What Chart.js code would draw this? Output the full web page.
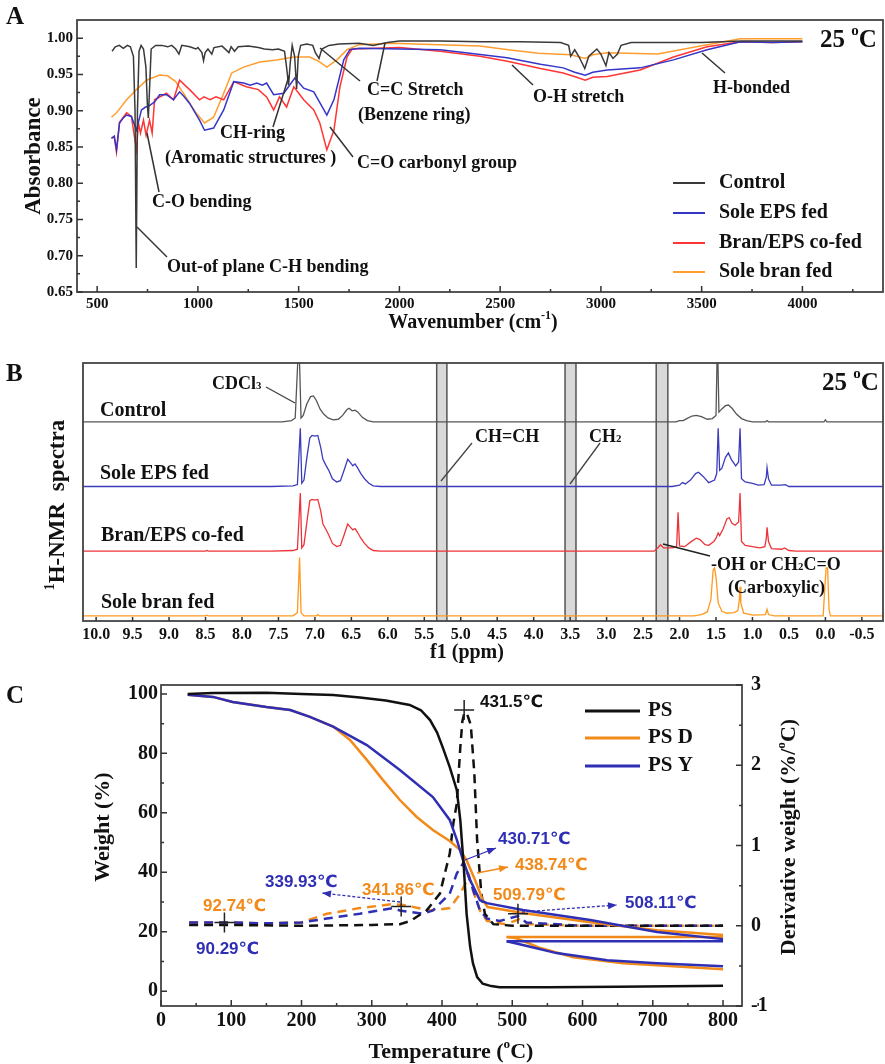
<!DOCTYPE html>
<html>
<head>
<meta charset="utf-8">
<script src="https://cdn.jsdelivr.net/npm/chart.js@4.4.0/dist/chart.umd.min.js"></script>
<style>
  html, body { margin: 0; padding: 0; background: #fff; }
  #wrap { position: relative; width: 885px; height: 1064px; }
  #wrap canvas { position: absolute; left: 0; top: 0; }
</style>
</head>
<body>
<div id="wrap">
  <canvas id="chartA" width="885" height="1064"></canvas>
  <canvas id="chartB" width="885" height="1064"></canvas>
  <canvas id="chartC" width="885" height="1064"></canvas>
</div>
<script>
const SERIF = '"Liberation Serif", "Times New Roman", serif';
const SANS = '"Liberation Sans", Arial, "DejaVu Sans", sans-serif';

// ---------- A: FTIR (wavenumber, absorbance) ----------
const ftirNames = ['Control', 'Sole EPS fed', 'Bran/EPS co-fed', 'Sole bran fed'];
const ftirXTicks = [500, 1000, 1500, 2000, 2500, 3000, 3500, 4000];
const ftirYTicks = [0.65, 0.70, 0.75, 0.80, 0.85, 0.90, 0.95, 1.00];

const ftirControl = [[574,0.982],[590,0.988],[610,0.99],[630,0.986],[650,0.99],[665,0.988],[680,0.975],[688,0.9],[694,0.683],[700,0.9],[708,0.982],[718,0.99],[730,0.985],[742,0.96],[749,0.91],[754,0.89],[760,0.93],[768,0.985],[790,0.99],[820,0.99],[850,0.988],[870,0.99],[890,0.985],[906,0.978],[920,0.99],[960,0.988],[990,0.985],[1000,0.987],[1020,0.98],[1028,0.969],[1036,0.98],[1050,0.985],[1069,0.978],[1080,0.987],[1120,0.989],[1154,0.98],[1165,0.988],[1182,0.982],[1200,0.988],[1250,0.989],[1300,0.987],[1330,0.985],[1370,0.984],[1400,0.985],[1430,0.982],[1440,0.96],[1450,0.935],[1458,0.965],[1468,0.99],[1480,0.975],[1490,0.93],[1498,0.975],[1510,0.99],[1540,0.992],[1570,0.99],[1583,0.98],[1601,0.972],[1615,0.985],[1650,0.99],[1700,0.992],[1800,0.993],[1870,0.99],[1940,0.994],[2000,0.996],[2200,0.996],[2400,0.995],[2600,0.995],[2800,0.994],[2840,0.99],[2850,0.975],[2870,0.984],[2890,0.975],[2920,0.958],[2940,0.975],[2980,0.985],[3000,0.978],[3025,0.962],[3040,0.98],[3060,0.972],[3082,0.978],[3100,0.99],[3150,0.994],[3500,0.994],[3700,0.996],[4000,0.996]];

const ftirEps = [[571,0.862],[585,0.865],[596,0.846],[611,0.883],[630,0.89],[646,0.894],[670,0.892],[695,0.873],[720,0.901],[740,0.905],[755,0.906],[785,0.912],[810,0.922],[844,0.922],[879,0.915],[909,0.926],[930,0.92],[959,0.91],[1008,0.887],[1033,0.873],[1078,0.876],[1128,0.901],[1178,0.94],[1227,0.938],[1260,0.935],[1292,0.938],[1320,0.935],[1341,0.938],[1376,0.922],[1426,0.924],[1455,0.935],[1481,0.945],[1525,0.931],[1575,0.926],[1640,0.894],[1675,0.915],[1724,0.97],[1754,0.984],[1800,0.986],[2000,0.985],[2203,0.984],[2350,0.979],[2534,0.973],[2700,0.964],[2813,0.959],[2870,0.953],[2922,0.949],[2960,0.953],[3031,0.956],[3195,0.959],[3360,0.97],[3527,0.984],[3693,0.995],[3850,0.994],[4000,0.995]];

const ftirCofed = [[571,0.862],[585,0.864],[596,0.843],[611,0.884],[646,0.897],[670,0.892],[695,0.846],[705,0.883],[715,0.869],[730,0.887],[743,0.866],[760,0.887],[773,0.869],[785,0.915],[844,0.924],[879,0.915],[909,0.942],[959,0.929],[1008,0.915],[1030,0.919],[1060,0.915],[1090,0.919],[1128,0.915],[1178,0.94],[1240,0.933],[1300,0.929],[1341,0.919],[1376,0.901],[1405,0.919],[1440,0.905],[1476,0.933],[1525,0.915],[1575,0.901],[1605,0.883],[1640,0.846],[1675,0.873],[1705,0.933],[1740,0.974],[1765,0.985],[2000,0.987],[2203,0.982],[2400,0.975],[2536,0.968],[2700,0.958],[2813,0.952],[2880,0.946],[2922,0.942],[2960,0.946],[3031,0.947],[3195,0.956],[3360,0.974],[3527,0.988],[3693,0.995],[3850,0.994],[4000,0.995]];

const ftirBran = [[571,0.891],[596,0.897],[646,0.915],[695,0.929],[745,0.942],[810,0.949],[850,0.948],[890,0.94],[940,0.919],[990,0.897],[1033,0.883],[1078,0.891],[1128,0.924],[1168,0.952],[1227,0.96],[1307,0.967],[1391,0.97],[1476,0.974],[1555,0.974],[1600,0.968],[1640,0.96],[1690,0.97],[1740,0.984],[1800,0.991],[1960,0.993],[2200,0.991],[2400,0.989],[2540,0.984],[2690,0.979],[2850,0.977],[2922,0.972],[2960,0.977],[3031,0.98],[3282,0.978],[3527,0.991],[3693,0.999],[4000,0.999]];

// ---------- B: 1H-NMR (ppm, intensity) ----------
const nmrNames = ['Control', 'Sole EPS fed', 'Bran/EPS co-fed', 'Sole bran fed'];
const nmrXTicks = [10.0, 9.5, 9.0, 8.5, 8.0, 7.5, 7.0, 6.5, 6.0, 5.5, 5.0, 4.5, 4.0, 3.5, 3.0, 2.5, 2.0, 1.5, 1.0, 0.5, 0.0, -0.5];
const nmrBands = [[5.33, 5.19], [3.57, 3.42], [2.32, 2.16]];

const nmrControl = [[10.2,0],[7.45,0],[7.32,0.02],[7.27,0.06],[7.22,1.3],[7.19,0.06],[7.16,0.1],[7.11,0.28],[7.06,0.39],[7.02,0.4],[6.98,0.33],[6.93,0.2],[6.88,0.12],[6.82,0.06],[6.75,0.03],[6.68,0.04],[6.62,0.1],[6.56,0.19],[6.53,0.21],[6.49,0.17],[6.45,0.18],[6.41,0.15],[6.35,0.07],[6.28,0.02],[6.2,0],[2.05,0],[2.0,0.02],[1.95,0.02],[1.9,0.05],[1.83,0.09],[1.77,0.1],[1.7,0.08],[1.62,0.04],[1.55,0.05],[1.5,0.1],[1.48,1.3],[1.46,0.15],[1.42,0.2],[1.37,0.25],[1.33,0.26],[1.28,0.21],[1.22,0.12],[1.15,0.05],[1.08,0.02],[1.0,0],[0.82,0],[0.8,0.02],[0.78,0],[0.02,0],[0.0,0.03],[-0.02,0],[-0.8,0]];

const nmrEps = [[10.2,0],[7.6,0],[7.3,0.01],[7.24,0.03],[7.2,0.9],[7.18,0.05],[7.15,0.1],[7.11,0.45],[7.07,0.75],[7.04,0.79],[7.0,0.78],[6.96,0.79],[6.92,0.6],[6.89,0.42],[6.85,0.33],[6.81,0.25],[6.76,0.12],[6.7,0.07],[6.65,0.09],[6.6,0.25],[6.55,0.42],[6.52,0.38],[6.48,0.32],[6.45,0.35],[6.42,0.3],[6.37,0.2],[6.32,0.12],[6.26,0.05],[6.2,0.01],[6.1,0],[2.1,0],[2.0,0.02],[1.96,0.06],[1.92,0.04],[1.85,0.1],[1.78,0.2],[1.74,0.22],[1.68,0.16],[1.6,0.06],[1.52,0.1],[1.49,0.2],[1.47,0.9],[1.45,0.25],[1.42,0.28],[1.37,0.45],[1.33,0.52],[1.29,0.42],[1.23,0.32],[1.19,0.38],[1.17,0.9],[1.15,0.12],[1.1,0.07],[1.0,0.05],[0.92,0.02],[0.84,0.03],[0.81,0.15],[0.8,0.29],[0.78,0.12],[0.74,0.02],[0.6,0.02],[0.55,0.03],[0.5,0],[-0.8,0]];

const nmrCofed = [[10.2,0],[8.5,0],[8.48,0.01],[8.46,0],[7.6,0],[7.3,0.01],[7.24,0.03],[7.2,0.9],[7.18,0.05],[7.15,0.1],[7.11,0.45],[7.07,0.78],[7.04,0.8],[7.0,0.79],[6.96,0.8],[6.92,0.62],[6.89,0.42],[6.85,0.34],[6.81,0.25],[6.76,0.12],[6.7,0.07],[6.65,0.09],[6.6,0.25],[6.55,0.42],[6.52,0.38],[6.48,0.33],[6.45,0.35],[6.42,0.3],[6.37,0.2],[6.32,0.12],[6.26,0.05],[6.2,0.01],[6.1,0],[2.35,0],[2.3,0.05],[2.26,0.1],[2.22,0.05],[2.1,0.05],[2.04,0.07],[2.02,0.6],[2.0,0.08],[1.93,0.07],[1.85,0.14],[1.77,0.2],[1.72,0.18],[1.65,0.1],[1.6,0.09],[1.53,0.15],[1.5,0.2],[1.47,0.28],[1.45,0.24],[1.4,0.35],[1.35,0.5],[1.32,0.52],[1.28,0.43],[1.24,0.4],[1.19,0.45],[1.17,0.9],[1.15,0.15],[1.1,0.09],[1.0,0.07],[0.9,0.05],[0.83,0.07],[0.81,0.2],[0.8,0.37],[0.78,0.15],[0.74,0.04],[0.6,0.03],[0.56,0.05],[0.5,0.01],[0.4,0],[-0.8,0]];

const nmrBran = [[10.2,0],[8.5,0],[8.48,0.01],[8.46,0],[7.3,0],[7.24,0.05],[7.21,0.9],[7.19,0.05],[7.15,0],[6.98,0],[6.96,0.02],[6.94,0],[6.0,0],[1.8,0],[1.7,0.02],[1.62,0.06],[1.57,0.25],[1.54,0.7],[1.52,0.74],[1.5,0.6],[1.47,0.2],[1.42,0.07],[1.35,0.04],[1.25,0.05],[1.2,0.08],[1.18,0.25],[1.17,0.45],[1.16,0.2],[1.12,0.04],[1.0,0.01],[0.82,0.02],[0.8,0.1],[0.78,0.02],[0.7,0],[0.03,0],[0.01,0.4],[-0.01,0.74],[-0.03,0.74],[-0.05,0.1],[-0.07,0],[-0.8,0]];

// ---------- C: TGA / DTG (temperature, value) ----------
const tgaNames = ['PS', 'PS D', 'PS Y'];
const tgaXTicks = [0, 100, 200, 300, 400, 500, 600, 700, 800];
const tgaYTicks = [0, 20, 40, 60, 80, 100];
const dtgYTicks = [-1, 0, 1, 2, 3];

const weightPS = [[38,100],[74,100.3],[150,100.4],[200,100],[245,99.6],[283,98.8],[320,97.8],[354,96.3],[370,94.5],[383,91.2],[393,87],[401,82],[411,75.4],[421,67.7],[426,57.6],[431,41.8],[435,26],[440,15],[444,9.4],[450,4.7],[458,2.5],[470,1.7],[482,1.3],[550,1.3],[650,1.5],[800,1.8]];
const weightPSD = [[38,99.7],[74,99],[102,97.3],[150,95.6],[184,94.6],[212,92.3],[245,89],[269,84.5],[293,77.8],[316,71],[340,64.3],[364,58.6],[387,54.2],[411,50.5],[426,47.5],[435,44],[447,37.4],[458,30.6],[465,28.3],[515,26.3],[611,23.2],[706,20.5],[800,18.9]];
const weightPSY = [[38,99.7],[74,99],[102,97.3],[150,95.6],[184,94.6],[212,92.3],[245,89],[293,82.8],[340,74.4],[387,65.3],[411,57.6],[421,51],[430,44],[440,37.4],[454,30.6],[464,29.6],[515,27.3],[611,23.9],[706,19.9],[800,17.5]];
const weightPSDflat = [[492,18.2],[800,18.2]];
const weightPSDlow = [[492,18.2],[506,17.8],[540,14.5],[587,11.4],[658,9.4],[800,7.4]];
const weightPSYflat = [[492,16.8],[800,16.8]];
const weightPSYlow = [[492,16.8],[515,15.5],[563,12.8],[635,10.4],[706,9.4],[800,8.4]];

const derivPS = [[40,0.01],[100,0.01],[200,0.0],[300,0.01],[340,0.02],[355,0.06],[378,0.19],[397,0.4],[411,0.9],[416,1.27],[421,1.52],[426,2.22],[429,2.55],[432,2.66],[436,2.63],[441,2.5],[446,1.9],[450,1.06],[456,0.4],[461,0.15],[473,0.02],[500,0.0],[600,0.0],[800,0.0]];
const derivPSD = [[40,0.04],[100,0.04],[150,0.03],[200,0.04],[236,0.15],[283,0.22],[330,0.27],[345,0.26],[383,0.19],[411,0.22],[426,0.4],[438.7,0.62],[444,0.44],[454,0.19],[464,0.06],[490,0.02],[510,0.08],[525,0.02],[600,0.0],[700,0.0],[800,0.0]];
const derivPSY = [[40,0.04],[100,0.04],[150,0.03],[200,0.04],[236,0.09],[283,0.15],[330,0.22],[340,0.19],[373,0.15],[387,0.19],[411,0.4],[421,0.65],[430.7,0.79],[440,0.56],[454,0.19],[464,0.09],[482,0.06],[508,0.12],[520,0.04],[600,0.0],[700,0.0],[800,0.0]];

const peakTemps = [431.5, 341.86, 90.29, 508.11];
const peakDeriv = [2.69, 0.24, 0.04, 0.15];

// ---------- helpers ----------
const pts = arr => arr.map(([x, y]) => ({ x, y }));

function fixSize(px, horizontal) {
  return s => {
    if (horizontal) s.height = px; else s.width = px;
    s.paddingLeft = s.paddingRight = s.paddingTop = s.paddingBottom = 0;
  };
}

function richText(ctx, parts, x, y, size, family, color, align, angle) {
  ctx.save();
  ctx.translate(x, y);
  if (angle) ctx.rotate(angle);
  ctx.fillStyle = color;
  ctx.textBaseline = 'middle';
  ctx.textAlign = 'left';
  const fonts = parts.map(p => `bold ${size * (p[1] || 1)}px ${family}`);
  const widths = parts.map((p, i) => { ctx.font = fonts[i]; return ctx.measureText(p[0]).width; });
  const total = widths.reduce((a, b) => a + b, 0);
  let cx = align === 'center' ? -total / 2 : align === 'right' ? -total : 0;
  parts.forEach((p, i) => {
    ctx.font = fonts[i];
    ctx.fillText(p[0], cx, (p[2] || 0) * size);
    cx += widths[i];
  });
  ctx.restore();
}

function text(ctx, s, x, y, size, family, color, align) {
  richText(ctx, [[s, 1, 0]], x, y, size, family, color || '#111', align || 'left', 0);
}

function seg(ctx, x1, y1, x2, y2, color, w, dash) {
  ctx.save();
  ctx.strokeStyle = color; ctx.lineWidth = w;
  ctx.setLineDash(dash || []);
  ctx.beginPath(); ctx.moveTo(x1, y1); ctx.lineTo(x2, y2); ctx.stroke();
  ctx.restore();
}

function arrow(ctx, x1, y1, x2, y2, color, dash) {
  seg(ctx, x1, y1, x2, y2, color, 1.3, dash);
  const ang = Math.atan2(y2 - y1, x2 - x1);
  ctx.save();
  ctx.fillStyle = color;
  ctx.translate(x2, y2); ctx.rotate(ang);
  ctx.beginPath(); ctx.moveTo(0, 0); ctx.lineTo(-9, -3.5); ctx.lineTo(-9, 3.5); ctx.closePath(); ctx.fill();
  ctx.restore();
}

function frame(chart) {
  const a = chart.chartArea, ctx = chart.ctx;
  ctx.save();
  ctx.strokeStyle = '#444'; ctx.lineWidth = 1.8;
  ctx.strokeRect(a.left, a.top, a.right - a.left, a.bottom - a.top);
  ctx.restore();
}

function inwardTicks(chart, id, values, len, side) {
  const s = chart.scales[id], a = chart.chartArea, ctx = chart.ctx;
  ctx.save(); ctx.strokeStyle = '#333'; ctx.lineWidth = 1.5; ctx.beginPath();
  values.forEach(v => {
    const p = s.getPixelForValue(v);
    if (side === 'bottom') { ctx.moveTo(p, a.bottom); ctx.lineTo(p, a.bottom - len); }
    if (side === 'left') { ctx.moveTo(a.left, p); ctx.lineTo(a.left + len, p); }
    if (side === 'right') { ctx.moveTo(a.right, p); ctx.lineTo(a.right - len, p); }
  });
  ctx.stroke(); ctx.restore();
}

function legendRows(ctx, rows, x1, x2, tx, size, lw) {
  rows.forEach(([label, color, y]) => {
    seg(ctx, x1, y, x2, y, color, lw);
    text(ctx, label, tx, y, size, SERIF, '#111');
  });
}

function tickFont(size) {
  return { family: SERIF, size: size, weight: 'bold' };
}

const baseOptions = {
  responsive: false,
  animation: false,
  devicePixelRatio: 1,
  events: [],
  plugins: { legend: { display: false }, tooltip: { enabled: false } },
  elements: { point: { radius: 0 }, line: { tension: 0, borderWidth: 1.4 } }
};

// ---------- Chart A ----------
const ftirColors = ['#3a3a3a', '#3535c8', '#ff3535', '#ff9d2e'];
const ftirSeries = [ftirControl, ftirEps, ftirCofed, ftirBran];
const ftirXMinor = ftirXTicks.map(v => v + 250);
const ftirYMinor = ftirYTicks.slice(0, -1).map(v => v + 0.025);

const decorA = {
  id: 'decorA',
  afterDraw(chart) {
    const ctx = chart.ctx;
    frame(chart);
    inwardTicks(chart, 'x', ftirXTicks, 6, 'bottom');
    inwardTicks(chart, 'x', ftirXMinor, 3, 'bottom');
    inwardTicks(chart, 'y', ftirYTicks, 6, 'left');
    inwardTicks(chart, 'y', ftirYMinor, 3, 'left');

    text(ctx, 'A', 6, 18, 25, SERIF);
    richText(ctx, [['Absorbance', 1, 0]], 34, 156, 23, SERIF, '#111', 'center', -Math.PI / 2);
    richText(ctx, [['Wavenumber (cm', 1, 0], ['-1', 0.6, -0.35], [')', 1, 0]], 473, 323, 20, SERIF, '#111', 'center', 0);
    richText(ctx, [['25 ', 1, 0], ['o', 0.6, -0.38], ['C', 1, 0]], 820, 41, 25, SERIF, '#111', 'left', 0);

    const lc = '#333';
    seg(ctx, 137, 227, 167, 257, lc, 1.5);
    seg(ctx, 147, 133, 159, 192, lc, 1.5);
    seg(ctx, 273, 127, 289, 76, lc, 1.5);
    seg(ctx, 330, 127, 353, 157, lc, 1.5);
    seg(ctx, 320, 48, 360, 81, lc, 1.5);
    seg(ctx, 385, 43, 377, 81, lc, 1.5);
    seg(ctx, 512, 65, 533, 85, lc, 1.5);
    seg(ctx, 702, 53, 725, 73, lc, 1.5);

    text(ctx, 'C=C Stretch', 367, 90, 18, SERIF);
    text(ctx, '(Benzene ring)', 358, 115, 18, SERIF);
    text(ctx, 'CH-ring', 220, 133, 18, SERIF);
    text(ctx, '(Aromatic structures )', 165, 158, 18, SERIF);
    text(ctx, 'C=O carbonyl group', 357, 163, 18, SERIF);
    text(ctx, 'C-O bending', 152, 202, 18, SERIF);
    text(ctx, 'Out-of plane C-H bending', 167, 267, 18, SERIF);
    text(ctx, 'O-H stretch', 533, 97, 18, SERIF);
    text(ctx, 'H-bonded', 713, 88, 18, SERIF);

    legendRows(ctx, ftirNames.map((n, i) => [n, ftirColors[i], [183, 213, 243, 272][i]]), 673, 705, 719, 20, 2);
  }
};

new Chart(document.getElementById('chartA'), {
  type: 'line',
  data: {
    datasets: ftirSeries.map((s, i) => ({
      label: ftirNames[i], data: pts(s), borderColor: ftirColors[i], borderWidth: 1.5
    }))
  },
  options: Object.assign({}, baseOptions, {
    layout: { padding: { left: 0, top: 20, right: 2, bottom: 744 } },
    scales: {
      x: {
        type: 'linear', min: 400, max: 4400,
        grid: { display: false, drawTicks: false }, border: { display: false },
        afterBuildTicks: s => { s.ticks = ftirXTicks.map(v => ({ value: v })); },
        afterFit: fixSize(28, true),
        ticks: { font: tickFont(15), color: '#111', padding: 3, maxRotation: 0, autoSkip: false, callback: v => String(v) }
      },
      y: {
        type: 'linear', min: 0.65, max: 1.025,
        grid: { display: false, drawTicks: false }, border: { display: false },
        afterBuildTicks: s => { s.ticks = ftirYTicks.map(v => ({ value: v })); },
        afterFit: fixSize(77, false),
        ticks: { font: tickFont(15), color: '#111', padding: 4, autoSkip: false, callback: v => v.toFixed(2) }
      }
    }
  }),
  plugins: [decorA]
});

// ---------- Chart B ----------
const nmrColors = ['#555555', '#3b3bbb', '#ee3338', '#ff9a1f'];
const nmrSeries = [nmrControl, nmrEps, nmrCofed, nmrBran];
const nmrOffsets = [3, 2, 1, 0];

const decorB = {
  id: 'decorB',
  beforeDatasetsDraw(chart) {
    const ctx = chart.ctx, a = chart.chartArea, xs = chart.scales.x;
    nmrBands.forEach(([hi, lo]) => {
      const x1 = xs.getPixelForValue(hi), x2 = xs.getPixelForValue(lo);
      ctx.save();
      ctx.fillStyle = '#d9d9d9';
      ctx.fillRect(x1, a.top, x2 - x1, a.bottom - a.top);
      ctx.strokeStyle = '#555'; ctx.lineWidth = 1.5;
      ctx.beginPath();
      ctx.moveTo(x1, a.top); ctx.lineTo(x1, a.bottom);
      ctx.moveTo(x2, a.top); ctx.lineTo(x2, a.bottom);
      ctx.stroke();
      ctx.restore();
    });
  },
  afterDraw(chart) {
    const ctx = chart.ctx;
    frame(chart);
    inwardTicks(chart, 'x', nmrXTicks, 4, 'bottom');

    text(ctx, 'B', 6, 375, 25, SERIF);
    richText(ctx, [['1', 0.6, -0.35], ['H-NMR  spectra', 1, 0]], 58, 505, 23, SERIF, '#111', 'center', -Math.PI / 2);
    text(ctx, 'f1 (ppm)', 467, 653, 20, SERIF, '#111', 'center');
    richText(ctx, [['25 ', 1, 0], ['o', 0.6, -0.38], ['C', 1, 0]], 822, 384, 25, SERIF, '#111', 'left', 0);

    text(ctx, 'Control', 100, 411, 20, SERIF);
    text(ctx, 'Sole EPS fed', 100, 474, 20, SERIF);
    text(ctx, 'Bran/EPS co-fed', 101, 536, 20, SERIF);
    text(ctx, 'Sole bran fed', 101, 603, 20, SERIF);

    const lc = '#444';
    richText(ctx, [['CDCl', 1, 0], ['3', 0.6, 0.12]], 212, 384, 18, SERIF, '#111', 'left', 0);
    seg(ctx, 266, 387, 295, 403, lc, 1.3);
    text(ctx, 'CH=CH', 475, 437, 18, SERIF);
    seg(ctx, 472, 443, 441, 481, lc, 1.3);
    richText(ctx, [['CH', 1, 0], ['2', 0.6, 0.15]], 589, 437, 18, SERIF, '#111', 'left', 0);
    seg(ctx, 600, 443, 570, 484, lc, 1.3);
    richText(ctx, [['-OH or CH', 1, 0], ['2', 0.6, 0.15], ['C=O', 1, 0]], 711, 565, 18, SERIF, '#111', 'left', 0);
    text(ctx, '(Carboxylic)', 728, 588, 18, SERIF);
    seg(ctx, 663, 544, 710, 556, '#222', 1.6);
  }
};

new Chart(document.getElementById('chartB'), {
  type: 'line',
  data: {
    datasets: nmrSeries.map((s, i) => ({
      label: nmrNames[i],
      data: s.map(([x, y]) => ({ x, y: y + nmrOffsets[i] })),
      borderColor: nmrColors[i], borderWidth: 1.3
    }))
  },
  options: Object.assign({}, baseOptions, {
    layout: { padding: { left: 83, top: 363, right: 2, bottom: 423 } },
    scales: {
      x: {
        type: 'linear', min: -0.79, max: 10.18, reverse: true,
        grid: { display: false, drawTicks: false }, border: { display: false },
        afterBuildTicks: s => { s.ticks = nmrXTicks.map(v => ({ value: v })); },
        afterFit: fixSize(20, true),
        ticks: { font: tickFont(16), color: '#111', padding: 4, maxRotation: 0, autoSkip: false, callback: v => v.toFixed(1) }
      },
      y: { type: 'linear', min: -0.08, max: 3.91, display: false }
    }
  }),
  plugins: [decorB]
});

// ---------- Chart C ----------
const cBlack = '#111111', cOrange = '#f28a1a', cBlue = '#2f2fb5';
const tgaColors = [cBlack, cOrange, cBlue];
const tgaXMinor = tgaXTicks.map(v => v + 50);
const tgaYMinor = tgaYTicks.slice(0, -1).map(v => v + 10);
const dtgYMinor = dtgYTicks.slice(0, -1).map(v => v + 0.5);

const decorC = {
  id: 'decorC',
  afterDraw(chart) {
    const ctx = chart.ctx;
    frame(chart);
    inwardTicks(chart, 'x', tgaXTicks, 6, 'bottom');
    inwardTicks(chart, 'x', tgaXMinor, 3, 'bottom');
    inwardTicks(chart, 'y', tgaYTicks, 6, 'left');
    inwardTicks(chart, 'y', tgaYMinor, 3, 'left');
    inwardTicks(chart, 'y2', dtgYTicks, 6, 'right');
    inwardTicks(chart, 'y2', dtgYMinor, 3, 'right');

    text(ctx, 'C', 6, 697, 25, SERIF);
    richText(ctx, [['Weight (%)', 1, 0]], 103, 827, 22, SERIF, '#111', 'center', -Math.PI / 2);
    richText(ctx, [['Derivative weight (%/', 1, 0], ['o', 0.6, -0.35], ['C)', 1, 0]], 789, 837, 22, SERIF, '#111', 'center', -Math.PI / 2);
    richText(ctx, [['Temperature (', 1, 0], ['o', 0.6, -0.35], ['C)', 1, 0]], 451, 1052, 22, SERIF, '#111', 'center', 0);

    legendRows(ctx, tgaNames.map((n, i) => [n, tgaColors[i], [711, 738, 766][i]]), 585, 640, 648, 21, 3);

    const f = 17;
    text(ctx, '431.5℃', 480, 702, f, SANS, cBlack);
    text(ctx, '430.71℃', 498, 839, f, SANS, cBlue);
    text(ctx, '438.74℃', 515, 865, f, SANS, cOrange);
    text(ctx, '509.79℃', 493, 895, f, SANS, cOrange);
    text(ctx, '508.11℃', 625, 903, f, SANS, cBlue);
    text(ctx, '339.93℃', 265, 882, f, SANS, cBlue);
    text(ctx, '341.86℃', 362, 890, f, SANS, cOrange);
    text(ctx, '92.74℃', 203, 906, f, SANS, cOrange);
    text(ctx, '90.29℃', 196, 949, f, SANS, cBlue);

    arrow(ctx, 400, 902, 322, 893, cBlue, [3, 2]);
    arrow(ctx, 465, 860, 496, 848, cBlue);
    arrow(ctx, 477, 873, 508, 867, cOrange);
    arrow(ctx, 522, 912, 617, 905, cBlue, [3, 2]);
  }
};

const solid = (label, data, color, show) => ({
  label, data: pts(data), borderColor: color, borderWidth: 2.5, yAxisID: 'y', inLegend: show
});
const dashed = (label, data, color) => ({
  label, data: pts(data), borderColor: color, borderWidth: 2.5, borderDash: [9, 6], yAxisID: 'y2'
});

new Chart(document.getElementById('chartC'), {
  type: 'line',
  data: {
    datasets: [
      {
        label: 'peaks', data: peakTemps.map((t, i) => ({ x: t, y: peakDeriv[i] })),
        yAxisID: 'y2', showLine: false, pointStyle: 'cross', pointRadius: 10,
        pointBorderColor: '#222', pointBorderWidth: 1.5
      },
      solid('PS', weightPS, cBlack),
      solid('PS Y', weightPSY, cBlue),
      solid('PS D', weightPSD, cOrange),
      solid('PS Y b', weightPSYflat, cBlue),
      solid('PS Y c', weightPSYlow, cBlue),
      solid('PS D b', weightPSDflat, cOrange),
      solid('PS D c', weightPSDlow, cOrange),
      dashed('PS dtg', derivPS, cBlack),
      dashed('PS Y dtg', derivPSY, cBlue),
      dashed('PS D dtg', derivPSD, cOrange)
    ]
  },
  options: Object.assign({}, baseOptions, {
    layout: { padding: { left: 0, top: 685, right: 83, bottom: 28 } },
    scales: {
      x: {
        type: 'linear', min: 0, max: 827,
        grid: { display: false, drawTicks: false }, border: { display: false },
        afterBuildTicks: s => { s.ticks = tgaXTicks.map(v => ({ value: v })); },
        afterFit: fixSize(30, true),
        ticks: { font: tickFont(20), color: '#111', padding: 3, maxRotation: 0, autoSkip: false, callback: v => String(v) }
      },
      y: {
        type: 'linear', position: 'left', min: -5, max: 103,
        grid: { display: false, drawTicks: false }, border: { display: false },
        afterBuildTicks: s => { s.ticks = tgaYTicks.map(v => ({ value: v })); },
        afterFit: fixSize(161, false),
        ticks: { font: tickFont(20), color: '#111', padding: 3, autoSkip: false, callback: v => String(v) }
      },
      y2: {
        type: 'linear', position: 'right', min: -1, max: 3,
        grid: { display: false, drawTicks: false }, border: { display: false },
        afterBuildTicks: s => { s.ticks = dtgYTicks.map(v => ({ value: v })); },
        afterFit: fixSize(60, false),
        ticks: { font: tickFont(20), color: '#111', padding: 9, autoSkip: false, callback: v => String(v) }
      }
    }
  }),
  plugins: [decorC]
});
</script>
</body>
</html>
